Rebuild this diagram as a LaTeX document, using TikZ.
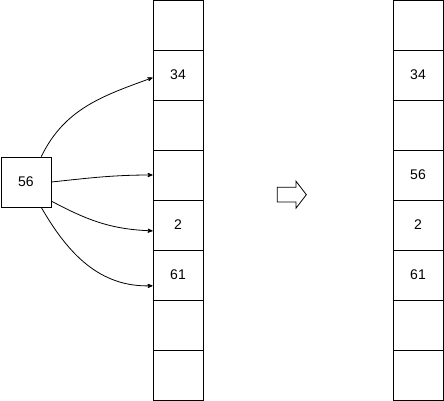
\documentclass[tikz,border=0pt]{standalone}
\usepackage{fontspec}
\setmainfont{Liberation Sans}
\usetikzlibrary{arrows,positioning,shapes.arrows}

\begin{document}
\begin{tikzpicture}[x=1pt,y=1pt,>=stealth',
		node distance=50pt,line width=0.8pt,
		cell/.style={rectangle,draw,minimum width=50pt,minimum height=50pt,inner sep=0pt,font=\fontsize{14}{16}\selectfont},
		move arrow/.style={single arrow,draw,single arrow head extend=6pt,single arrow tip angle=105,minimum height=29pt,inner xsep=0pt,inner ysep=7pt}]
		
		\useasboundingbox (0,0) rectangle (444,401);
		
		% array before
		\node[cell] (l1) at (178,376) {};
		\node[cell] (l2) [below of=l1] {34};
		\node[cell] (l3) [below of=l2] {};
		\node[cell] (l4) [below of=l3] {};
		\node[cell] (l5) [below of=l4] {2};
		\node[cell] (l6) [below of=l5] {61};
		\node[cell] (l7) [below of=l6] {};
		\node[cell] (l8) [below of=l7] {};
		
		% element to insert
		\node[cell] (b) at (26,219) {56};
		
		% array after
		\node[cell] (r1) at (418,376) {};
		\node[cell] (r2) [below of=r1] {34};
		\node[cell] (r3) [below of=r2] {};
		\node[cell] (r4) [below of=r3] {56};
		\node[cell] (r5) [below of=r4] {2};
		\node[cell] (r6) [below of=r5] {61};
		\node[cell] (r7) [below of=r6] {};
		\node[cell] (r8) [below of=r7] {};
		
		\node[move arrow] (go) at (289,206.3) {};
		
		\path[->]
		(b.59) edge [out=64,in=200] (l2.186)
		(b.east) edge [out=6,in=180] (l4.west)
		(b.-37) edge [out=-28,in=178] (l5.193)
		(b.-59) edge [out=-60,in=182] (l6.203);
		
\end{tikzpicture}
\end{document}
